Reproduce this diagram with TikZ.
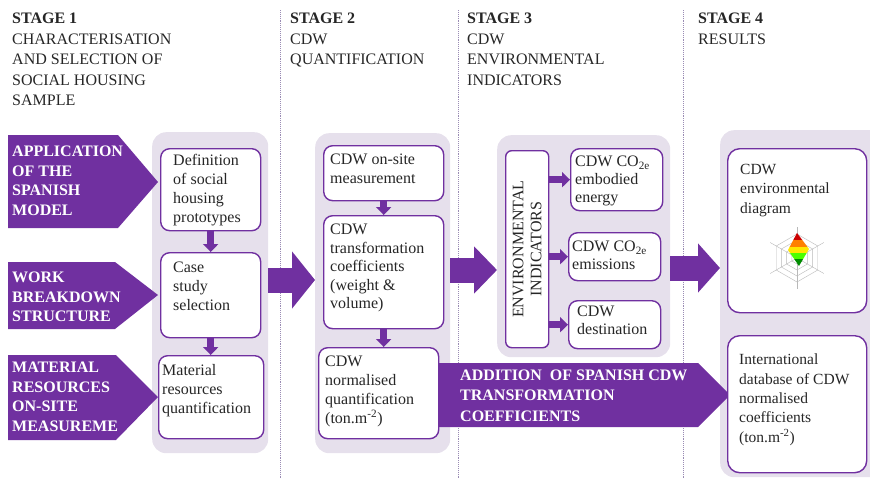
\documentclass[tikz,border=0pt]{standalone}
\usepackage{fontspec}
\setmainfont{Liberation Serif}
\usetikzlibrary{arrows.meta,calc}
\definecolor{purp}{HTML}{7030A0}
\definecolor{panelc}{HTML}{E6E0EC}
\definecolor{dotc}{HTML}{9A8CB4}
\definecolor{txtc}{HTML}{262626}
\tikzset{
  panelbox/.style={fill=panelc, rounded corners=14pt, draw=none, inner sep=0pt, anchor=north west},
  wbox/.style={draw=purp, line width=1.4pt, fill=white, rounded corners=9pt, inner sep=0pt, anchor=north west},
  btxt/.style={font=\fontsize{16}{19}\selectfont, text=txtc, align=left, inner sep=0pt, anchor=north west},
  headtxt/.style={font=\fontsize{16}{20.5}\selectfont, text=txtc, align=left, inner sep=0pt, anchor=north west},
  wtxt/.style={font=\bfseries\fontsize{16}{19.5}\selectfont, text=white, align=left, inner sep=0pt, anchor=north west},
  stageline/.style={dotc, densely dotted, line width=0.9pt},
  smallarrow/.style={purp, line width=7pt, -{Triangle[width=15pt,length=8pt]}},
  bigarrow/.style={purp, line width=25pt, -{Triangle[width=56pt,length=23pt]}},
  pent/.style={fill=purp, draw=none},
  ring/.style={gray!55, line width=0.4pt},
}
\begin{document}
\begin{tikzpicture}[x=1pt,y=-1pt]
\useasboundingbox (0,0) rectangle (870,479);
% stage separators
\coordinate (s1t) at (280,10); \coordinate (s1b) at (280,479);
\coordinate (s2t) at (458,10); \coordinate (s2b) at (458,479);
\coordinate (s3t) at (683,10); \coordinate (s3b) at (683,479);
\draw[stageline] (s1t) -- (s1b);
\draw[stageline] (s2t) -- (s2b);
\draw[stageline] (s3t) -- (s3b);
% headers
\node[headtxt] (h1) at (12,13) {\textbf{STAGE 1}\\CHARACTERISATION\\AND SELECTION OF\\SOCIAL HOUSING\\SAMPLE};
\node[headtxt] (h2) at (290,13) {\textbf{STAGE 2}\\CDW\\QUANTIFICATION};
\node[headtxt] (h3) at (467,13) {\textbf{STAGE 3}\\CDW\\ENVIRONMENTAL\\INDICATORS};
\node[headtxt] (h4) at (698,13) {\textbf{STAGE 4}\\RESULTS};
% panels
\node[panelbox, minimum width=116pt, minimum height=321pt] (p1) at (152,132) {};
\node[panelbox, minimum width=135pt, minimum height=320pt] (p2) at (315,133) {};
\node[panelbox, minimum width=173pt, minimum height=222pt] (p3) at (497,135) {};
\node[panelbox, minimum width=170pt, minimum height=347pt] (p4) at (720,130) {};
% left input arrows
\fill[pent] (8,135) -- (118,135) -- (158,182) -- (118,228) -- (8,228) -- cycle;
\fill[pent] (8,262) -- (115,262) -- (158,295) -- (115,329) -- (8,329) -- cycle;
\fill[pent] (8,355) -- (116,355) -- (158,397) -- (116,440) -- (8,440) -- cycle;
\node[wtxt] (a1) at (12,146) {APPLICATION\\OF THE\\SPANISH\\MODEL};
\node[wtxt] (a2) at (12,272) {WORK\\BREAKDOWN\\STRUCTURE};
\node[wtxt] (a3) at (12,362) {MATERIAL\\RESOURCES\\ON-SITE\\MEASUREME};
% addition arrow
\fill[pent] (437,363) -- (698,363) -- (730,395) -- (698,427) -- (437,427) -- cycle;
\node[wtxt, font=\bfseries\fontsize{16}{20.5}\selectfont] (add) at (460,369.5) {ADDITION\ \ OF SPANISH CDW\\TRANSFORMATION\\COEFFICIENTS};
% big arrows between stages
\draw[bigarrow] (p1.east |- 0,280) -- (p2.west |- 0,280);
\draw[bigarrow, -{Triangle[width=46pt,length=23pt]}] (p2.east |- 0,270) -- (p3.west |- 0,270);
\draw[bigarrow, -{Triangle[width=48pt,length=22pt]}] (p3.east |- 0,268) -- (p4.west |- 0,268);
% stage 1 boxes
\node[wbox, minimum width=100pt, minimum height=82pt] (def) at (160,148) {};
\node[wbox, minimum width=100pt, minimum height=85pt] (case) at (160,252) {};
\node[wbox, minimum width=105pt, minimum height=83pt] (mat) at (158,355) {};
\node[btxt] (deft) at (173,154) {Definition\\of social\\housing\\prototypes};
\node[btxt] (caset) at (173,262) {Case\\study\\selection};
\node[btxt] (matt) at (162,364) {Material\\resources\\quantification};
\draw[smallarrow] (def.south) -- (case.north);
\draw[smallarrow] (case.south) -- (case.south |- mat.north);
% stage 2 boxes
\node[wbox, minimum width=120pt, minimum height=55pt] (onsite) at (323,145) {};
\node[wbox, minimum width=120pt, minimum height=113pt] (trans) at (323,215) {};
\node[wbox, minimum width=120pt, minimum height=91pt] (norm) at (318,347) {};
\node[btxt] (onsitet) at (330,154) {CDW on-site\\measurement};
\node[btxt, font=\fontsize{16}{18.5}\selectfont] (transt) at (330,224) {CDW\\transformation\\coefficients\\(weight \&\\volume)};
\node[btxt] (normt) at (325,356) {CDW\\normalised\\quantification\\(ton.m\textsuperscript{-2})};
\draw[smallarrow] (onsite.south) -- (trans.north);
\draw[smallarrow] (trans.south) -- (trans.south |- norm.north);
% stage 3 boxes
\node[wbox, rounded corners=6pt, minimum width=43pt, minimum height=197pt] (env) at (505,150) {};
\node[rotate=90, font=\fontsize{16}{18}\selectfont, text=txtc, align=center, inner sep=0pt] (envt) at (env.center) {ENVIRONMENTAL\\INDICATORS};
\node[wbox, minimum width=92pt, minimum height=62pt] (emb) at (570,148) {};
\node[wbox, minimum width=92pt, minimum height=48pt] (emi) at (568,232) {};
\node[wbox, minimum width=92pt, minimum height=48pt] (des) at (568,300) {};
\node[btxt, font=\fontsize{16}{18}\selectfont] (embt) at (575,156) {CDW CO\textsubscript{2e}\\embodied\\energy};
\node[btxt, font=\fontsize{16}{18}\selectfont] (emit) at (572,241) {CDW CO\textsubscript{2e}\\emissions};
\node[btxt, font=\fontsize{16}{18}\selectfont] (dest) at (577,306) {CDW\\destination};
\draw[smallarrow] (env.east |- emb.west) -- (emb.west);
\draw[smallarrow] (env.east |- emi.west) -- (emi.west);
\draw[smallarrow] (env.east |- des.west) -- (des.west);
% stage 4 boxes
\node[wbox, rounded corners=12pt, minimum width=139pt, minimum height=164pt] (diag) at (727,148) {};
\node[wbox, rounded corners=12pt, minimum width=139pt, minimum height=137pt] (intl) at (727,335) {};
\node[btxt, font=\fontsize{15.5}{19.5}\selectfont] (diagt) at (740,164) {CDW\\environmental\\diagram};
\node[btxt, font=\fontsize{15.5}{19.3}\selectfont] (intlt) at (739,354) {International\\database of CDW\\normalised\\coefficients\\(ton.m\textsuperscript{-2})};
% radar chart
\coordinate (rc) at (797,258);
\foreach \r in {6,12,18,24}{
  \draw[ring] ($(rc)+(90:\r)$) -- ($(rc)+(30:\r)$) -- ($(rc)+(-30:\r)$) -- ($(rc)+(-90:\r)$) -- ($(rc)+(-150:\r)$) -- ($(rc)+(150:\r)$) -- cycle;
}
\foreach \a in {90,30,-30,-90,-150,150}{
  \draw[ring] (rc) -- ($(rc)+(\a:31)$);
}
\begin{scope}
\clip (797,233) -- (809,249) -- (799,266) -- (788,250) -- cycle;
\fill[red!80!black] (780,230) rectangle (815,240);
\fill[orange] (780,240) rectangle (815,247);
\fill[yellow!90!orange] (780,247) rectangle (815,253);
\fill[green!70!yellow] (780,253) rectangle (815,259);
\fill[green!55!black] (780,259) rectangle (815,268);
\end{scope}
\end{tikzpicture}
\end{document}
